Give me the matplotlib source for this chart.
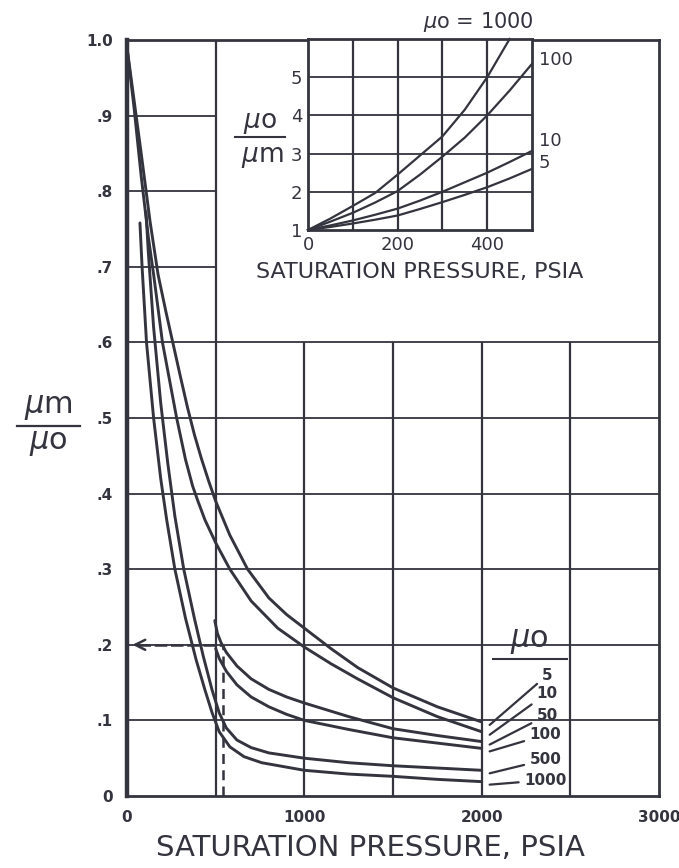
import matplotlib.pyplot as plt
import numpy as np

INK = '#34343f'
plt.rcParams['font.family'] = ['DejaVu Sans']

# main chart: mu_m / mu_o against saturation pressure, one curve per dead-oil viscosity
mu_labels = ['5', '10', '50', '100', '500', '1000']

p_5 = [0, 40, 80, 130, 175, 220, 260, 300, 340, 380, 420, 460, 500, 580, 680, 800, 900, 1000, 1150, 1300, 1500, 1750, 2000]
r_5 = [0.99, 0.92, 0.85, 0.76, 0.69, 0.64, 0.598, 0.556, 0.515, 0.478, 0.446, 0.417, 0.39, 0.345, 0.30, 0.262, 0.24, 0.222, 0.195, 0.17, 0.143, 0.118, 0.098]

p_10 = [0, 40, 80, 120, 150, 200, 240, 280, 330, 370, 400, 440, 500, 580, 700, 850, 1000, 1150, 1300, 1500, 1750, 2000]
r_10 = [0.99, 0.91, 0.82, 0.74, 0.69, 0.60, 0.55, 0.50, 0.445, 0.41, 0.39, 0.365, 0.335, 0.30, 0.258, 0.222, 0.197, 0.175, 0.155, 0.13, 0.105, 0.085]

p_50 = [495, 510, 530, 560, 620, 700, 800, 900, 1000, 1250, 1500, 1750, 2000]
r_50 = [0.232, 0.215, 0.203, 0.19, 0.172, 0.155, 0.141, 0.131, 0.123, 0.105, 0.089, 0.08, 0.072]

p_100 = [500, 520, 560, 620, 700, 800, 900, 1000, 1250, 1500, 1750, 2000]
r_100 = [0.195, 0.182, 0.165, 0.147, 0.131, 0.118, 0.108, 0.10, 0.088, 0.077, 0.07, 0.063]

p_500 = [107, 120, 150, 190, 230, 270, 320, 380, 430, 480, 520, 560, 620, 700, 800, 1000, 1250, 1500, 1750, 2000]
r_500 = [0.773, 0.72, 0.62, 0.52, 0.44, 0.37, 0.30, 0.235, 0.185, 0.14, 0.11, 0.09, 0.074, 0.064, 0.057, 0.05, 0.044, 0.04, 0.037, 0.034]

p_1000 = [73, 85, 110, 150, 190, 224, 270, 330, 390, 440, 480, 520, 580, 660, 760, 1000, 1250, 1500, 1750, 2000]
r_1000 = [0.758, 0.70, 0.60, 0.50, 0.42, 0.365, 0.30, 0.235, 0.18, 0.14, 0.11, 0.085, 0.065, 0.052, 0.044, 0.034, 0.029, 0.026, 0.022, 0.019]

curves = [(p_5, r_5), (p_10, r_10), (p_50, r_50), (p_100, r_100), (p_500, r_500), (p_1000, r_1000)]

# label positions beside the curve ends
lab_p = [2340, 2310, 2310, 2270, 2270, 2240]
lab_r = [0.160, 0.136, 0.107, 0.081, 0.048, 0.021]

# worked example: read 0.2 at 540 psia
ex_p = 540
ex_r = 0.2

# inset: mu_o / mu_m against saturation pressure
in_labels = ['1000', '100', '10', '5']
ip_1000 = [0, 50, 100, 150, 200, 250, 300, 350, 400, 450]
ir_1000 = [1.0, 1.3, 1.63, 1.97, 2.45, 2.95, 3.45, 4.15, 5.0, 6.0]
ip_100 = [0, 50, 100, 150, 200, 250, 300, 350, 400, 450, 500]
ir_100 = [1.0, 1.22, 1.45, 1.72, 2.02, 2.45, 2.92, 3.42, 4.0, 4.65, 5.35]
ip_10 = [0, 50, 100, 150, 200, 250, 300, 350, 400, 450, 500]
ir_10 = [1.0, 1.12, 1.25, 1.4, 1.56, 1.77, 2.0, 2.25, 2.5, 2.78, 3.07]
ip_5 = [0, 50, 100, 150, 200, 250, 300, 350, 400, 450, 500]
ir_5 = [1.0, 1.08, 1.17, 1.27, 1.38, 1.55, 1.73, 1.92, 2.12, 2.35, 2.6]

fig = plt.figure(figsize=(6.79, 8.68), dpi=100)
ax = fig.add_axes([127 / 679, 1 - 796 / 868, 532 / 679, 756 / 868])
ax.set_xlim(0, 3000)
ax.set_ylim(0, 1.0)

# grid: lower part everywhere, upper part only left of 500 psia
for y in np.arange(0.1, 0.61, 0.1):
    ax.hlines(y, 0, 3000, color=INK, lw=1.3, zorder=1)
for y in [0.7, 0.8, 0.9]:
    ax.hlines(y, 0, 500, color=INK, lw=1.3, zorder=1)
ax.vlines(500, 0, 1.0, color=INK, lw=1.6, zorder=1)
for x in [1000, 1500, 2000, 2500]:
    ax.vlines(x, 0, 0.6, color=INK, lw=1.6, zorder=1)

for p, r in curves:
    ax.plot(p, r, color=INK, lw=2.1, solid_capstyle='round', zorder=3)

# dashed example lines, arrow back to the axis
ax.plot([ex_p, ex_p], [0, ex_r], color=INK, lw=1.8, ls=(0, (4, 2.5)), zorder=2)
ax.plot([60, ex_p], [ex_r, ex_r], color=INK, lw=1.8, ls=(0, (5, 1.5)), zorder=2)
ax.annotate('', xy=(15, ex_r), xytext=(80, ex_r),
            arrowprops=dict(arrowstyle='->', color=INK, lw=1.8, mutation_scale=18), zorder=2)

for s in ax.spines.values():
    s.set_color(INK)
    s.set_linewidth(2.0)
ax.spines['left'].set_linewidth(3.2)

ax.set_xticks([0, 1000, 2000, 3000])
ax.set_xticklabels(['0', '1000', '2000', '3000'])
ax.set_yticks(np.arange(0, 1.01, 0.1))
ax.set_yticklabels(['0', '.1', '.2', '.3', '.4', '.5', '.6', '.7', '.8', '.9', '1.0'])
ax.tick_params(length=0, colors=INK, labelsize=11, pad=10)
for t in ax.get_xticklabels() + ax.get_yticklabels():
    t.set_fontweight('bold')

ax.set_xlabel('SATURATION PRESSURE, PSIA', fontsize=21, color=INK)
ax.xaxis.set_label_coords(0.457, -0.05)

# y label as a stacked fraction
fig.text(48 / 679, 1 - 408 / 868, r'$\mu$m', fontsize=22, color=INK, ha='center', va='center')
fig.text(48 / 679, 1 - 444 / 868, r'$\mu$o', fontsize=22, color=INK, ha='center', va='center')
fig.add_artist(plt.Line2D([17 / 679, 80 / 679], [1 - 426 / 868] * 2, color=INK, lw=1.6))

# curve labels with leader lines
ax.text(2270, 0.205, r'$\mu$o', fontsize=22, color=INK, ha='center', va='center')
ax.hlines(0.181, 2060, 2485, color=INK, lw=1.5)
for (p, r), lab, lp, lr in zip(curves, mu_labels, lab_p, lab_r):
    ax.annotate(lab, xy=(p[-1] + 45, r[-1] - 0.004), xytext=(lp, lr),
                fontsize=11, fontweight='bold', color=INK, ha='left', va='center',
                arrowprops=dict(arrowstyle='-', color=INK, lw=1.6, shrinkA=2, shrinkB=0))

# inset
ins = fig.add_axes([308 / 679, 1 - 230 / 868, 224 / 679, 191 / 868])
ins.set_xlim(0, 500)
ins.set_ylim(1, 6)
for x in [100, 200, 300, 400]:
    ins.axvline(x, color=INK, lw=1.6, zorder=1)
for y in [2, 3, 4, 5]:
    ins.axhline(y, color=INK, lw=1.3, zorder=1)
for p, r in [(ip_1000, ir_1000), (ip_100, ir_100), (ip_10, ir_10), (ip_5, ir_5)]:
    ins.plot(p, r, color=INK, lw=1.6, zorder=3, clip_on=False)
for s in ins.spines.values():
    s.set_color(INK)
    s.set_linewidth(2.0)
ins.set_xticks([0, 200, 400])
ins.set_yticks([1, 2, 3, 4, 5])
ins.tick_params(length=0, colors=INK, labelsize=13, pad=4)
ins.set_xlabel('SATURATION PRESSURE, PSIA', fontsize=16, color=INK)
ins.xaxis.set_label_coords(0.5, -0.165)

fig.text(260 / 679, 1 - 123 / 868, r'$\mu$o', fontsize=19, color=INK, ha='center', va='center')
fig.text(262 / 679, 1 - 157 / 868, r'$\mu$m', fontsize=19, color=INK, ha='center', va='center')
fig.add_artist(plt.Line2D([235 / 679, 285 / 679], [1 - 137 / 868] * 2, color=INK, lw=1.5))

fig.text(478 / 679, 1 - 22 / 868, r'$\mu$o = ' + in_labels[0], fontsize=15, color=INK, ha='center', va='center')
ins.text(515, ir_100[-1] + 0.1, in_labels[1], fontsize=13, color=INK, ha='left', va='center')
ins.text(515, ir_10[-1] + 0.25, in_labels[2], fontsize=13, color=INK, ha='left', va='center')
ins.text(515, ir_5[-1] + 0.15, in_labels[3], fontsize=13, color=INK, ha='left', va='center')

fig.savefig('out.png', dpi=100)
